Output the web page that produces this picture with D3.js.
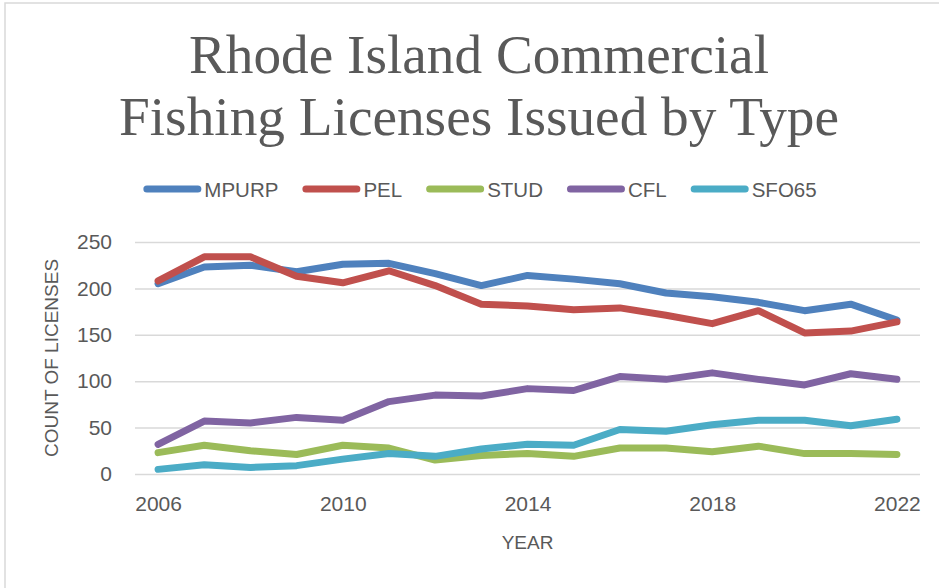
<!DOCTYPE html>
<html>
<head>
<meta charset="utf-8">
<script src="https://cdn.jsdelivr.net/npm/d3@7"></script>
<style>
    body { margin: 0; background: #fff; }
    text { fill: #595959; }
</style>
</head>
<body>
<div id="chart"></div>
<script>
// DATA

const years = d3.range(2006, 2023);
const tick_years = [2006, 2010, 2014, 2018, 2022];
const y_ticks = [0, 50, 100, 150, 200, 250];

const mpurp = [205, 223, 225, 218, 226, 227, 216, 203, 214, 210, 205, 195, 191, 185, 176, 183, 166];
const pel   = [208, 234, 234, 213, 206, 219, 203, 183, 181, 177, 179, 171, 162, 176, 152, 154, 164];
const stud  = [23, 31, 25, 21, 31, 28, 15, 20, 22, 19, 28, 28, 24, 30, 22, 22, 21];
const cfl   = [32, 57, 55, 61, 58, 78, 85, 84, 92, 90, 105, 102, 109, 102, 96, 108, 102];
const sfo65 = [5, 10, 7, 9, 16, 22, 19, 27, 32, 31, 48, 46, 53, 58, 58, 52, 59];

const series_names = ['MPURP', 'PEL', 'STUD', 'CFL', 'SFO65'];
const series_values = [mpurp, pel, stud, cfl, sfo65];
const colors = ['#4F81BD', '#C0504D', '#9BBB59', '#8064A2', '#4BACC6'];

// CONFIG

const width = 939,
    height = 588;

const plot = { left: 135, right: 920, top: 242, bottom: 474 };

const svg = d3.select('#chart')
    .append('svg')
    .attr('width', width)
    .attr('height', height);

// chart border (only top and left edge visible)
svg.append('rect')
    .attr('x', 5)
    .attr('y', 3)
    .attr('width', width + 20)
    .attr('height', height + 20)
    .attr('fill', 'none')
    .attr('stroke', '#d9d9d9')
    .attr('stroke-width', 1.5);

// TITLE

const title_lines = ['Rhode Island Commercial', 'Fishing Licenses Issued by Type'];
const title_widths = [580, 720];
svg.append('g')
    .selectAll('text')
    .data(title_lines)
    .enter()
    .append('text')
    .attr('x', 479)
    .attr('y', (d, i) => 73 + i * 62)
    .attr('text-anchor', 'middle')
    .attr('textLength', (d, i) => title_widths[i])
    .attr('lengthAdjust', 'spacingAndGlyphs')
    .style('font-family', '"Liberation Serif", serif')
    .style('font-size', '54px')
    .text(d => d);

// SCALES

const x_scale = d3.scalePoint()
    .domain(years)
    .range([plot.left, plot.right])
    .padding(0.5);

const y_scale = d3.scaleLinear()
    .domain([0, 250])
    .range([plot.bottom, plot.top]);

// GRID + AXES

const y_axis = d3.axisLeft(y_scale)
    .tickValues(y_ticks)
    .tickSize(-(plot.right - plot.left))
    .tickPadding(23);

svg.append('g')
    .attr('id', 'y-axis')
    .attr('transform', `translate(${plot.left}, 0)`)
    .call(y_axis)
    .call(g => g.select('.domain').remove())
    .call(g => g.selectAll('line').attr('stroke', '#d9d9d9').attr('stroke-width', 1.5))
    .call(g => g.selectAll('text')
        .style('font-family', '"Liberation Sans", Arial, sans-serif')
        .style('font-size', '21px')
        .attr('fill', '#595959'));

const x_axis = d3.axisBottom(x_scale)
    .tickValues(tick_years)
    .tickSize(0)
    .tickPadding(22);

svg.append('g')
    .attr('id', 'x-axis')
    .attr('transform', `translate(0, ${plot.bottom})`)
    .call(x_axis)
    .call(g => g.select('.domain').remove())
    .call(g => g.selectAll('text')
        .style('font-family', '"Liberation Sans", Arial, sans-serif')
        .style('font-size', '21px')
        .attr('fill', '#595959'));

svg.append('text')
    .attr('x', (plot.left + plot.right) / 2)
    .attr('y', 549)
    .attr('text-anchor', 'middle')
    .style('font-family', '"Liberation Sans", Arial, sans-serif')
    .style('font-size', '19px')
    .text('YEAR');

svg.append('text')
    .attr('transform', 'translate(58, 358) rotate(-90)')
    .attr('text-anchor', 'middle')
    .style('font-family', '"Liberation Sans", Arial, sans-serif')
    .style('font-size', '19px')
    .text('COUNT OF LICENSES');

// LINES

const line = d3.line()
    .x((d, i) => x_scale(years[i]))
    .y(d => y_scale(d));

svg.append('g')
    .selectAll('path')
    .data(series_values)
    .enter()
    .append('path')
    .attr('d', d => line(d))
    .attr('fill', 'none')
    .attr('stroke', (d, i) => colors[i])
    .attr('stroke-width', 7)
    .attr('stroke-linejoin', 'round')
    .attr('stroke-linecap', 'round');

// LEGEND

const legend = svg.append('g').attr('id', 'legend');
let lx = 0;
series_names.forEach((name, i) => {
    const item = legend.append('g').attr('transform', `translate(${lx}, 0)`);
    item.append('line')
        .attr('x1', 3.5).attr('x2', 54.5)
        .attr('y1', 0).attr('y2', 0)
        .attr('stroke', colors[i])
        .attr('stroke-width', 7)
        .attr('stroke-linecap', 'round');
    const t = item.append('text')
        .attr('x', 61)
        .attr('y', 7.5)
        .style('font-family', '"Liberation Sans", Arial, sans-serif')
        .style('font-size', '20.5px')
        .text(name);
    lx += 61 + t.node().getComputedTextLength() + 24;
});
const legend_width = lx - 24;
legend.attr('transform', `translate(${480 - legend_width / 2}, 189)`);
</script>
</body>
</html>
